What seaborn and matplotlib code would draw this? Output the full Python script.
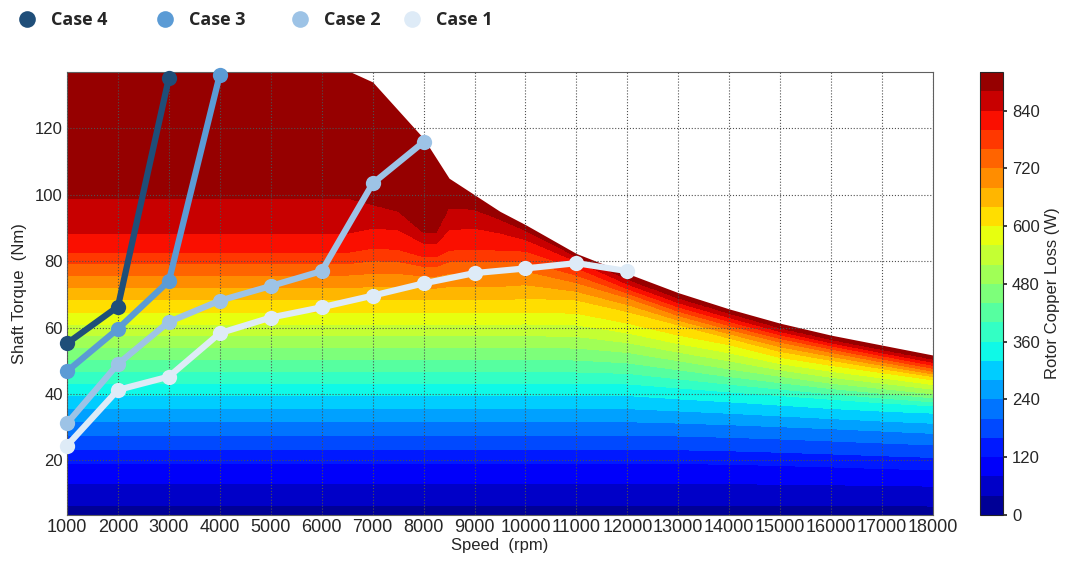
import numpy as np
import pandas as pd
import matplotlib
matplotlib.use("Agg")
import matplotlib.pyplot as plt
from matplotlib.lines import Line2D
import seaborn as sns

# ---------------------------------------------------------------------------
# Rotor copper-loss map: iso-loss torque lines (Nm) at each grid speed (rpm)
# ---------------------------------------------------------------------------
grid_speed = [1000, 6500, 7000, 7500, 8000, 8250, 8500, 9000, 9500, 10000,
              11000, 12000, 13000, 14000, 15000, 16000, 17000, 18000]

loss_levels = [0, 40, 80, 120, 200, 240, 320, 360, 480, 600, 640, 720, 800, 840, 880, 920]

iso_0 = [0.0] * 18
iso_40 = [6.5] * 12 + [6.5, 6.4, 6.4, 6.3, 6.3, 6.2]
iso_80 = [13.1] * 12 + [13.0, 12.9, 12.8, 12.6, 12.4, 12.2]
iso_120 = [19.1] * 12 + [19.0, 18.8, 18.4, 18.0, 17.5, 17.1]
iso_200 = [27.6] * 12 + [27.3, 26.9, 26.4, 25.8, 25.2, 24.6]
iso_240 = [31.6] * 12 + [31.2, 30.7, 30.1, 29.5, 28.8, 28.1]
iso_320 = [39.5] * 12 + [38.5, 37.6, 36.6, 35.6, 34.8, 34.2]
iso_360 = [43.0] * 12 + [41.8, 40.6, 39.5, 38.4, 37.3, 36.4]
iso_480 = [54.0] * 10 + [53.8, 52.5, 50.0, 47.5, 45.3, 43.2, 41.6, 40.0]
iso_600 = [64.5] * 9 + [64.6, 64.3, 61.3, 57.7, 54.8, 51.0, 48.6, 46.4, 44.2]
iso_640 = [68.3] * 9 + [68.8, 68.3, 64.8, 60.8, 56.8, 52.8, 50.1, 47.6, 45.2]
iso_720 = [75.8, 75.8, 76.3, 76.3, 75.5, 75.5, 76.3, 76.5, 76.5, 77.0,
           73.5, 69.0, 63.6, 59.4, 55.6, 52.5, 49.6, 46.8]
iso_800 = [82.6, 82.6, 83.9, 83.5, 81.3, 81.3, 83.3, 83.5, 83.3, 83.0,
           78.0, 71.7, 66.2, 61.8, 57.8, 54.5, 51.5, 48.6]
iso_840 = [88.4, 88.4, 89.9, 89.5, 85.4, 85.4, 89.5, 89.9, 88.5, 86.5,
           80.0, 73.1, 67.5, 63.0, 58.8, 55.4, 52.4, 49.5]
iso_880 = [99.0, 99.0, 97.0, 95.0, 88.5, 88.5, 96.0, 95.5, 92.5, 89.2,
           81.3, 74.5, 68.8, 64.2, 59.8, 56.3, 53.3, 50.4]
iso_920 = [160.0] * 18

# Maximum shaft torque envelope (Nm)
max_torque = [145.0, 137.5, 134.0, 125.5, 117.0, 111.0, 105.0, 100.0, 95.0, 91.0,
              82.3, 76.3, 70.5, 65.6, 61.3, 57.7, 54.7, 51.7]

# Operating points of the four cases
case1_speed = [1000, 2000, 3000, 4000, 5000, 6000, 7000, 8000, 9000, 10000, 11000, 12000]
case1_torque = [24.4, 41.2, 45.2, 58.3, 63.0, 66.1, 69.6, 73.3, 76.4, 77.8, 79.4, 77.0]
case2_speed = [1000, 2000, 3000, 4000, 5000, 6000, 7000, 8000]
case2_torque = [31.1, 49.0, 61.7, 68.1, 72.5, 77.0, 103.4, 115.9]
case3_speed = [1000, 2000, 3000, 4000]
case3_torque = [46.8, 59.6, 74.0, 136.2]
case4_speed = [1000, 2000, 3000]
case4_torque = [55.2, 66.3, 135.2]

case_names = ["Case 4", "Case 3", "Case 2", "Case 1"]
case_colors = {"Case 4": "#1F4E79", "Case 3": "#5B9BD5",
               "Case 2": "#9DC3E6", "Case 1": "#DEEBF7"}

sns.set_theme(style="white")
plt.rcParams["font.family"] = ["Liberation Sans", "DejaVu Sans"]

fig = plt.figure(figsize=(10.67, 5.66), dpi=100)
W, H = 1067, 566
ax = fig.add_axes([67 / W, 51 / H, 866 / W, 443 / H])
cax = fig.add_axes([980 / W, 51 / H, 23 / W, 443 / H])

# Loss field: iso-lines carried along speed, then loss resolved along torque
iso = np.array([iso_0, iso_40, iso_80, iso_120, iso_200, iso_240, iso_320, iso_360,
                iso_480, iso_600, iso_640, iso_720, iso_800, iso_840, iso_880, iso_920])
speed_axis = np.linspace(1000, 18000, 681)
torque_axis = np.linspace(0, 140, 701)
iso_on_axis = np.array([np.interp(speed_axis, grid_speed, row) for row in iso])
Z = np.column_stack([np.interp(torque_axis, iso_on_axis[:, j], loss_levels)
                     for j in range(len(speed_axis))])

levels = np.arange(0, 921, 40)
cs = ax.contourf(speed_axis, torque_axis, Z, levels=levels, cmap="jet", zorder=1)

# Blank out the region above the torque envelope
ax.fill_between(grid_speed, max_torque, 160, color="white", lw=0, zorder=1.5)

# Case trajectories
df = pd.concat([
    pd.DataFrame({"Case": "Case 1", "Speed": case1_speed, "Torque": case1_torque}),
    pd.DataFrame({"Case": "Case 2", "Speed": case2_speed, "Torque": case2_torque}),
    pd.DataFrame({"Case": "Case 3", "Speed": case3_speed, "Torque": case3_torque}),
    pd.DataFrame({"Case": "Case 4", "Speed": case4_speed, "Torque": case4_torque}),
], ignore_index=True)

for z, name in enumerate(["Case 1", "Case 2", "Case 3", "Case 4"]):
    sns.lineplot(data=df[df["Case"] == name], x="Speed", y="Torque", ax=ax,
                 color=case_colors[name], marker="o", markersize=11,
                 markeredgewidth=0, linewidth=4.5, sort=False,
                 zorder=3 + z, clip_on=False, legend=False)

ax.set_xlim(1000, 18000)
ax.set_ylim(3.5, 137)
ax.set_xticks(np.arange(1000, 18001, 1000))
ax.set_yticks(np.arange(20, 121, 20))
ax.set_axisbelow(False)
ax.grid(True, color="#505050", linestyle=":", linewidth=0.8)
ax.tick_params(direction="in", length=3, labelsize=12, pad=3)
ax.tick_params(axis="x", labelsize=13)
ax.set_xlabel("Speed  (rpm)", fontsize=12, labelpad=1)
ax.set_ylabel("Shaft Torque  (Nm)", fontsize=12, labelpad=6)
for sp in ax.spines.values():
    sp.set_color("#606060")
    sp.set_linewidth(0.8)

cb = fig.colorbar(cs, cax=cax, ticks=np.arange(0, 841, 120))
cb.set_label("Rotor Copper Loss (W)", fontsize=12)
cb.ax.tick_params(labelsize=12, length=3)
cb.outline.set_linewidth(0.8)

# Legend row across the top
legend_x = [9, 147, 282, 394]
for name, lx in zip(case_names, legend_x):
    h = Line2D([], [], linestyle="none", marker="o", markersize=12,
               markeredgewidth=0, color=case_colors[name])
    fig.legend(handles=[h], labels=[name], loc="center left",
               bbox_to_anchor=(lx / W, 1 - 20 / H), frameon=False,
               handletextpad=0.35, borderpad=0, borderaxespad=0,
               prop={"family": ["Open Sans", "DejaVu Sans"], "weight": "bold", "size": 13})

fig.savefig("out.png", dpi=100)
